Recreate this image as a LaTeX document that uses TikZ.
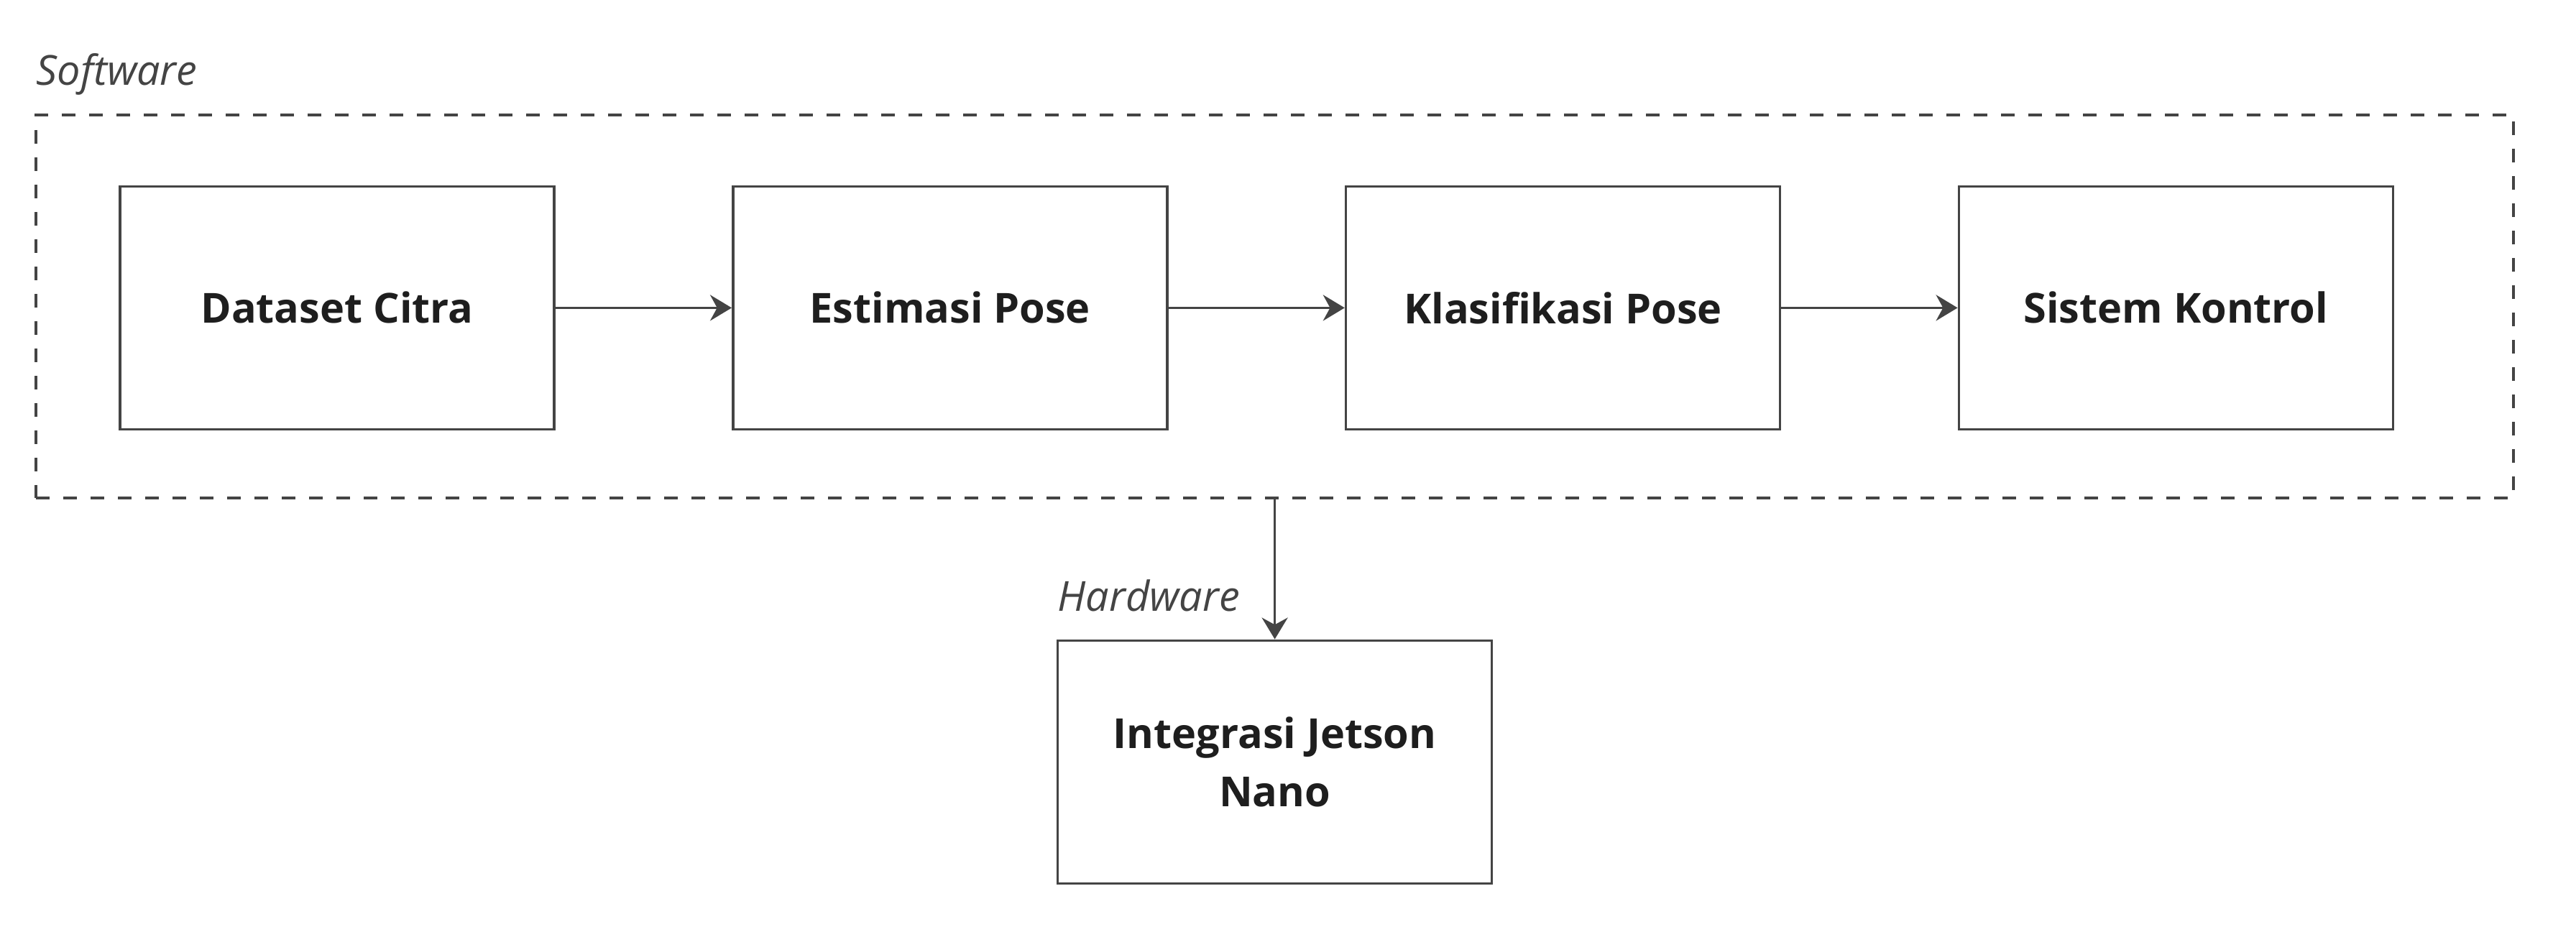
\documentclass[tikz,border=0pt]{standalone}
\usepackage{fontspec}
\setmainfont{Open Sans}
\usetikzlibrary{positioning,arrows.meta}
\definecolor{linegray}{HTML}{444444}
\definecolor{textdark}{HTML}{1E1E1E}
\tikzset{
    block/.style={draw=linegray, line width=0.9pt, fill=white,
        minimum width=151pt, minimum height=84.5pt, align=center,
        text=textdark, font=\fontsize{14.4}{20}\selectfont\bfseries},
    frame/.style={draw=linegray, line width=0.9pt, dash pattern=on 4.8pt off 4.7pt,
        minimum width=861.75pt, minimum height=133.25pt, inner sep=0pt},
    tag/.style={text=linegray, font=\fontsize{14.4}{17}\selectfont\itshape, inner sep=0pt},
    flow/.style={draw=linegray, line width=0.9pt, -{Stealth[length=7.5pt, width=9pt]}}
}
\begin{document}
\begin{tikzpicture}[x=1pt, y=1pt, node distance=61.3pt]
        \useasboundingbox (0,0) rectangle (896,324);

        % 1. Software frame
        \node[frame] (software) at (443.4,217.4) {};
        \node[tag, anchor=west] (swlabel) at (12.5,298.25) {Software};

        % 2. Software blocks
        \node[block] (dataset) at (117.25,216.9) {Dataset Citra};
        \node[block, right=of dataset] (estimasi) {Estimasi Pose};
        \node[block, right=of estimasi] (klasifikasi) {Klasifikasi Pose};
        \node[block, right=of klasifikasi] (kontrol) {Sistem Kontrol};

        % 3. Hardware block
        \node[block] (jetson) at (443.4,58.9) {Integrasi Jetson\\Nano};
        \node[tag, anchor=west] (hwlabel) at (367.75,116.75) {Hardware};

        % 4. Arrows
        \foreach \a/\b in {dataset/estimasi, estimasi/klasifikasi, klasifikasi/kontrol}
            \draw[flow] (\a) -- (\b);
        \draw[flow] (software.south) -- (jetson.north);
    \end{tikzpicture}
\end{document}
